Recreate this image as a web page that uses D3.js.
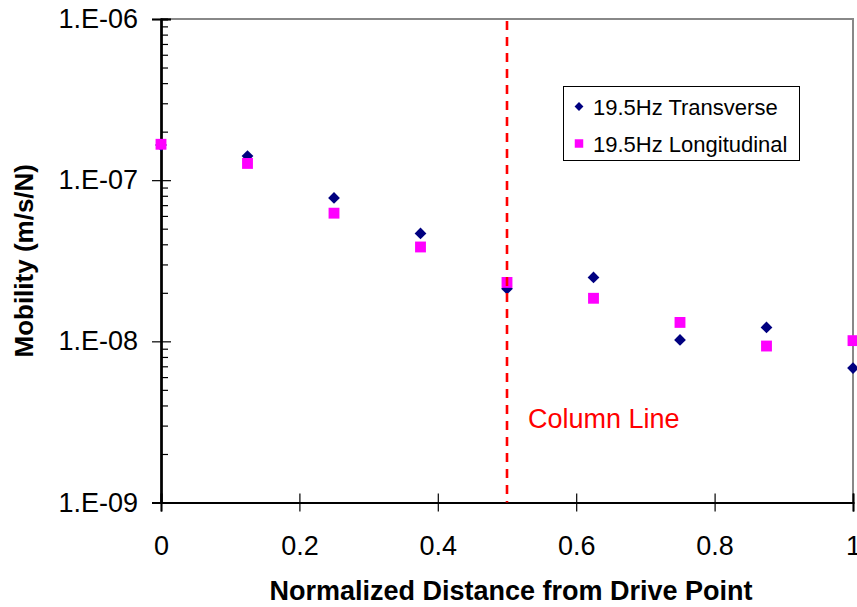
<!DOCTYPE html>
<html>
<head>
<meta charset="utf-8">
<script src="https://cdn.jsdelivr.net/npm/d3@7"></script>
<style>
  body { margin: 0; background: #fff; }
  text { font-family: Arial, "Liberation Sans", sans-serif; }
</style>
</head>
<body>
<div id="chart"></div>
<script>
// normalized distance of each measurement point
const distances = [0, 0.125, 0.25, 0.375, 0.5, 0.625, 0.75, 0.875, 1];
// mobility values (m/s/N)
const transverse = [1.65e-7, 1.41e-7, 7.76e-8, 4.67e-8, 2.12e-8, 2.49e-8, 1.02e-8, 1.22e-8, 6.83e-9];
const longitudinal = [1.67e-7, 1.27e-7, 6.24e-8, 3.85e-8, 2.32e-8, 1.85e-8, 1.31e-8, 9.35e-9, 1.01e-8];
const seriesNames = ['19.5Hz Transverse', '19.5Hz Longitudinal'];
const xTicks = [0, 0.2, 0.4, 0.6, 0.8, 1];
const yTicks = [1e-9, 1e-8, 1e-7, 1e-6];
const columnLine = 0.5;

const width = 857;
const height = 607;
const plotLeft = 161, plotRight = 853, plotTop = 19, plotBottom = 502.5;

const svg = d3.select('#chart')
  .append('svg')
  .attr('width', width)
  .attr('height', height);

const x = d3.scaleLinear().domain([0, 1]).range([plotLeft, plotRight]);
const y = d3.scaleLog().domain([1e-9, 1e-6]).range([plotBottom, plotTop]);

// minor ticks 2..9 in every decade
const minorTicks = [];
yTicks.slice(0, -1).forEach(t => {
  for (let k = 2; k <= 9; k++) minorTicks.push(t * k);
});

// gray plot border on top and right
svg.append('path')
  .attr('d', `M${plotLeft},${plotTop}H${plotRight}V${plotBottom}`)
  .attr('fill', 'none')
  .attr('stroke', '#888')
  .attr('stroke-width', 2);

// y axis: outside major ticks with labels
const yFormat = d => '1.E-0' + Math.round(-Math.log10(d));
svg.append('g')
  .attr('transform', `translate(${plotLeft},0)`)
  .call(d3.axisLeft(y).tickValues(yTicks).tickSize(9).tickPadding(14).tickFormat(yFormat));
// inside ticks
svg.append('g')
  .attr('transform', `translate(${plotLeft},0)`)
  .call(d3.axisRight(y).tickValues(yTicks).tickSize(10).tickFormat(''));
svg.append('g')
  .attr('transform', `translate(${plotLeft},0)`)
  .call(d3.axisRight(y).tickValues(minorTicks).tickSize(7).tickFormat(''));

// x axis
svg.append('g')
  .attr('transform', `translate(0,${plotBottom})`)
  .call(d3.axisBottom(x).tickValues(xTicks).tickSize(9).tickPadding(24).tickFormat(d => String(+d.toFixed(1))));
svg.append('g')
  .attr('transform', `translate(0,${plotBottom})`)
  .call(d3.axisTop(x).tickValues(xTicks).tickSize(9).tickFormat(''));

svg.selectAll('.domain').attr('stroke', '#000').attr('stroke-width', 2);
svg.selectAll('.tick line').attr('stroke', '#000').attr('stroke-width', 1.2);
svg.selectAll('.tick text').attr('font-size', 27).attr('fill', '#000')
  .style('font-family', 'Arial, "Liberation Sans", sans-serif');

// data points
const diamond = d3.symbol().type(d3.symbolDiamond2).size(88);
const square = d3.symbol().type(d3.symbolSquare).size(118);

svg.append('g')
  .selectAll('path')
  .data(transverse)
  .enter()
  .append('path')
  .attr('d', diamond)
  .attr('fill', '#000080')
  .attr('transform', (d, i) => `translate(${x(distances[i])},${y(d)})`);

svg.append('g')
  .selectAll('path')
  .data(longitudinal)
  .enter()
  .append('path')
  .attr('d', square)
  .attr('fill', '#ff00ff')
  .attr('transform', (d, i) => `translate(${x(distances[i])},${y(d)})`);

// column line
svg.append('line')
  .attr('x1', x(columnLine)).attr('x2', x(columnLine))
  .attr('y1', plotTop + 2).attr('y2', plotBottom)
  .attr('stroke', '#ff0000')
  .attr('stroke-width', 2.6)
  .attr('stroke-dasharray', '9,7');

svg.append('text')
  .attr('x', 528)
  .attr('y', 428)
  .attr('font-size', 27)
  .attr('fill', '#ff0000')
  .text('Column Line');

// legend
const legend = svg.append('g');
legend.append('rect')
  .attr('x', 563.5).attr('y', 86.5)
  .attr('width', 236).attr('height', 74)
  .attr('fill', '#fff')
  .attr('stroke', '#000')
  .attr('stroke-width', 1);

const rows = [106.5, 143.5];
legend.append('path')
  .attr('d', d3.symbol().type(d3.symbolDiamond2).size(50))
  .attr('fill', '#000080')
  .attr('transform', `translate(579,${rows[0]})`);
legend.append('path')
  .attr('d', d3.symbol().type(d3.symbolSquare).size(72))
  .attr('fill', '#ff00ff')
  .attr('transform', `translate(579,${rows[1]})`);
legend.selectAll('text')
  .data(seriesNames)
  .enter()
  .append('text')
  .attr('x', 593)
  .attr('y', (d, i) => rows[i] + 8)
  .attr('font-size', 22)
  .attr('fill', '#000')
  .text(d => d);

// axis titles
svg.append('text')
  .attr('x', 511)
  .attr('y', 600)
  .attr('text-anchor', 'middle')
  .attr('font-size', 27)
  .attr('font-weight', 'bold')
  .text('Normalized Distance from Drive Point');

svg.append('text')
  .attr('transform', `translate(33,${(plotTop + plotBottom) / 2}) rotate(-90)`)
  .attr('text-anchor', 'middle')
  .attr('font-size', 26)
  .attr('font-weight', 'bold')
  .text('Mobility (m/s/N)');
</script>
</body>
</html>
